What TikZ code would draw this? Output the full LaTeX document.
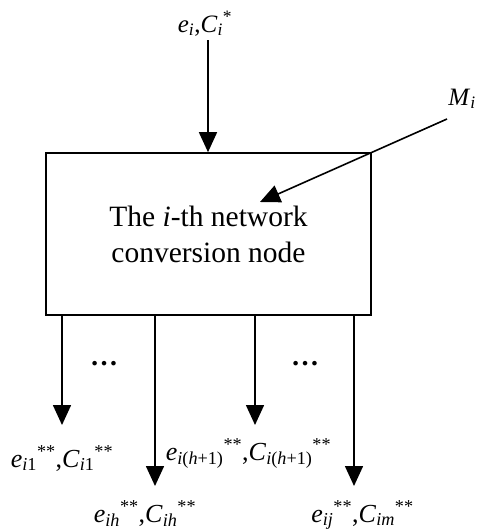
\documentclass[tikz,border=0pt]{standalone}
\usepackage{fontspec}
\setmainfont{Liberation Serif}
\usetikzlibrary{arrows.meta}
\newcommand{\sbs}[1]{\textsubscript{#1}}
\newcommand{\sps}[1]{\textsuperscript{#1}}
\begin{document}
\begin{tikzpicture}[x=1pt,y=-1pt,
  arr/.style={line width=1.6pt,-{Triangle[length=20pt,width=18pt]}},
  lab/.style={anchor=base,inner sep=0pt,font=\fontsize{26}{31}\selectfont},
  dots/.style={anchor=base,inner sep=0pt,font=\fontsize{28}{32}\selectfont\bfseries},
  mainbox/.style={draw,line width=1.6pt,minimum width=325pt,minimum height=162pt,align=center,font=\fontsize{29.5}{36}\selectfont}]
\useasboundingbox (0,0) rectangle (478,530);
\node[mainbox] (box) at (208.5,234) {The \textit{i}-th network\\conversion node};
\node[lab,font=\fontsize{25}{30}\selectfont] (top) at (205,32) {\textit{e}\sbs{\textit{i}},\textit{C}\sbs{\textit{i}}\sps{*}};
\node[lab,font=\fontsize{25}{30}\selectfont] (mi) at (462,105) {\textit{M}\sbs{\textit{i}}};
\coordinate (tin) at (208,40);
\draw[arr] (tin) -- (tin |- box.north);
\coordinate (ms) at (447,119);
\coordinate (mt) at (260,202);
\draw[arr] (ms) -- (mt);
\coordinate (t1) at (62,425);
\coordinate (t2) at (155,486);
\coordinate (t3) at (255,425);
\coordinate (t4) at (354,486);
\foreach \t in {t1,t2,t3,t4} \draw[arr] (box.south -| \t) -- (\t);
\node[dots] (d1) at (104,365) {…};
\node[dots] (d2) at (305,365) {…};
\node[lab] (l1) at (62,467) {\textit{e}\sbs{\textit{i}1}\sps{**},\textit{C}\sbs{\textit{i}1}\sps{**}};
\node[lab] (l2) at (145,522) {\textit{e}\sbs{\textit{ih}}\sps{**},\textit{C}\sbs{\textit{ih}}\sps{**}};
\node[lab] (l3) at (248.5,460) {\textit{e}\sbs{\textit{i}(\textit{h}+1)}\sps{**},\textit{C}\sbs{\textit{i}(\textit{h}+1)}\sps{**}};
\node[lab] (l4) at (362.5,522) {\textit{e}\sbs{\textit{ij}}\sps{**},\textit{C}\sbs{\textit{im}}\sps{**}};
\end{tikzpicture}
\end{document}
